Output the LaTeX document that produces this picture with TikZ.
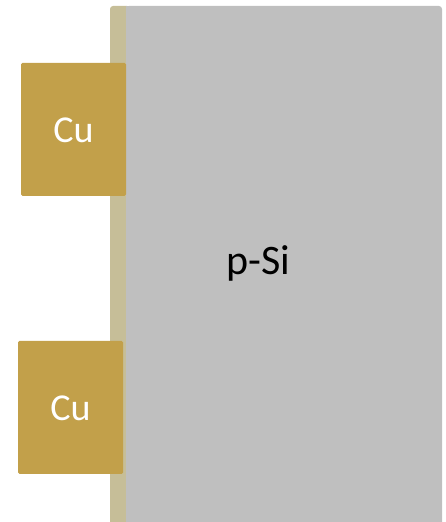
\documentclass[tikz,border=0pt]{standalone}
\usepackage{fontspec}
\setmainfont{Carlito}
\definecolor{siGray}{HTML}{BFBFBF}
\definecolor{oxTan}{HTML}{C6BE98}
\definecolor{cuGold}{HTML}{C2A04A}
\tikzset{
  cupad/.style={fill=cuGold, draw=none, rounded corners=1.5pt},
  cutext/.style={text=white, font=\fontsize{38}{40}\selectfont},
}
\begin{document}
\begin{tikzpicture}[x=1pt,y=1pt]
  \useasboundingbox (0,0) rectangle (445,522);
  % p-Si substrate with thin oxide layer on the left face
  \fill[oxTan, rounded corners=3pt] (110,-10) rectangle (130,516);
  \fill[siGray, rounded corners=3pt] (126,-10) rectangle (442,516);
  \fill[siGray] (126,-10) rectangle (135,516);
  \node[font=\fontsize{42}{44}\selectfont, anchor=base] (si) at (258.5,247) {p-Si};
  % copper contacts
  \fill[cupad] (21,326) rectangle (126,459);
  \node[cutext] (cu1) at (73.5,392) {Cu};
  \fill[cupad] (18,48) rectangle (123,181);
  \node[cutext] (cu2) at (70.5,114) {Cu};
\end{tikzpicture}
\end{document}
